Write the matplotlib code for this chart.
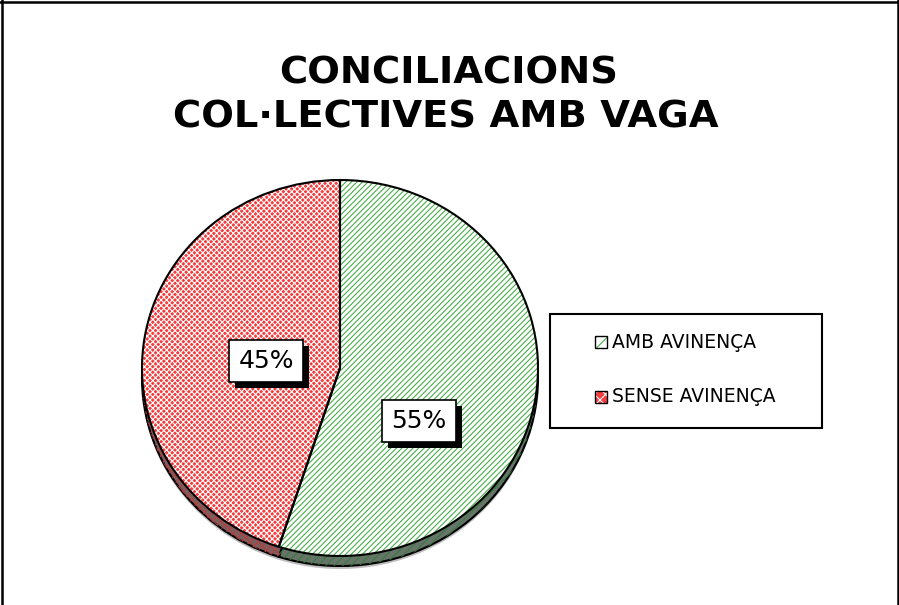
import matplotlib
matplotlib.use("Agg")
import matplotlib.pyplot as plt
from matplotlib.patches import Rectangle
from matplotlib.lines import Line2D

# ---------------- data ----------------
title_lines = ["CONCILIACIONS", "COL·LECTIVES AMB VAGA"]
categories = ["AMB AVINENÇA", "SENSE AVINENÇA"]
shares = [55, 45]
pct_labels = ["55%", "45%"]

# ---------------- style ----------------
W, H = 899, 605
face_cols = ["#ffffff", "#f53c3c"]
hatch_cols = ["#4aae4a", "#ffffff"]
hatches = ["//////", "xxxxxx"]
side_face = ["#66746a", "#7d5e5e"]
side_hatch = ["#3a7a3a", "#b04040"]

# pie ellipse geometry in pixels
cx, cy, rx, ry = 340, 368, 198, 188
depth = 10

plt.rcParams['font.family'] = ['DejaVu Sans']
plt.rcParams['hatch.linewidth'] = 0.8
fig = plt.figure(figsize=(W / 100, H / 100), dpi=100)
ax = fig.add_axes([0, 0, 1, 1])


def draw_layer(center_dy, faces, edges, hatch_list, lw, z):
    wedges, _ = ax.pie(shares, startangle=90, counterclock=False,
                       center=(0, center_dy), radius=1,
                       wedgeprops=dict(linewidth=lw))
    for i, w in enumerate(wedges):
        w.set_facecolor(faces[i])
        w.set_edgecolor(edges[i])
        if hatch_list is not None:
            w.set_hatch(hatch_list[i])
        w.set_zorder(z)
    return wedges


# shadow below the pie
d = depth / ry
draw_layer(-d - 3 / ry, ["#bdbdbd", "#bdbdbd"], ["none", "none"], None, 0, 1)
# side (depth) layer
draw_layer(-d, side_face, ["black", "black"], None, 1.5, 2)
draw_layer(-d, ["none", "none"], side_hatch, ["////", "xxxx"], 0, 3)
# top face
draw_layer(0, face_cols, ["none", "none"], None, 0, 4)
draw_layer(0, ["none", "none"], hatch_cols, hatches, 0, 5)
top = draw_layer(0, ["none", "none"], ["black", "black"], None, 1.5, 6)

ax.set_aspect('auto')
ax.set_xlim((0 - cx) / rx, (W - cx) / rx)
ax.set_ylim((cy - H) / ry, cy / ry)
ax.axis('off')


def px(x, y):
    return (x / W, 1 - y / H)


# percentage labels (white box with black drop shadow)
label_pos = [(419, 421), (266, 361)]
label_texts = []
for (lx, ly), txt in zip(label_pos, pct_labels):
    t = fig.text(*px(lx, ly), txt, ha='center', va='center',
                 fontsize=18, color='black', zorder=8,
                 bbox=dict(boxstyle='square,pad=0.36', facecolor='white',
                           edgecolor='black', linewidth=1.2))
    label_texts.append(t)

fig.canvas.draw()
r = fig.canvas.get_renderer()
for t in label_texts:
    bb = t.get_bbox_patch().get_window_extent(r)
    sh = Rectangle(((bb.x0 + 6) / W, (bb.y0 - 6) / H), bb.width / W, bb.height / H,
                   transform=fig.transFigure, facecolor='black', edgecolor='none',
                   zorder=7)
    fig.patches.append(sh)

# title
fig.text(*px(449, 73), title_lines[0], ha='center', va='center',
         fontsize=27.7, fontweight='bold')
fig.text(*px(446, 118), title_lines[1], ha='center', va='center',
         fontsize=27.7, fontweight='bold')

# legend box
lx0, ly0, lx1, ly1 = 550, 314, 822, 428
fig.patches.append(Rectangle(px(lx0, ly1), (lx1 - lx0) / W, (ly1 - ly0) / H,
                             transform=fig.transFigure, facecolor='white',
                             edgecolor='black', linewidth=1.5, zorder=5))
entry_y = [342, 397]
for i, cat in enumerate(categories):
    y = entry_y[i]
    base = Rectangle(px(595, y + 6), 12 / W, 12 / H, transform=fig.transFigure,
                     facecolor=face_cols[i], edgecolor='none', zorder=6)
    hat = Rectangle(px(595, y + 6), 12 / W, 12 / H, transform=fig.transFigure,
                    facecolor='none', edgecolor=hatch_cols[i], hatch=hatches[i][:3],
                    linewidth=0, zorder=7)
    outl = Rectangle(px(595, y + 6), 12 / W, 12 / H, transform=fig.transFigure,
                     facecolor='none', edgecolor='black', linewidth=1.0, zorder=8)
    fig.patches.extend([base, hat, outl])
    fig.text(*px(612, y), cat, ha='left', va='center', fontsize=13.5, zorder=9)

# outer border (left, top, right)
for xs, ys in [((1.5, 1.5), (0, H)), ((0, W), (1.5, 1.5)), ((897.5, 897.5), (0, H))]:
    fig.lines.append(Line2D([x / W for x in xs], [1 - y / H for y in ys],
                            transform=fig.transFigure, color='black', linewidth=1.8))

fig.savefig("out.png", dpi=100)
